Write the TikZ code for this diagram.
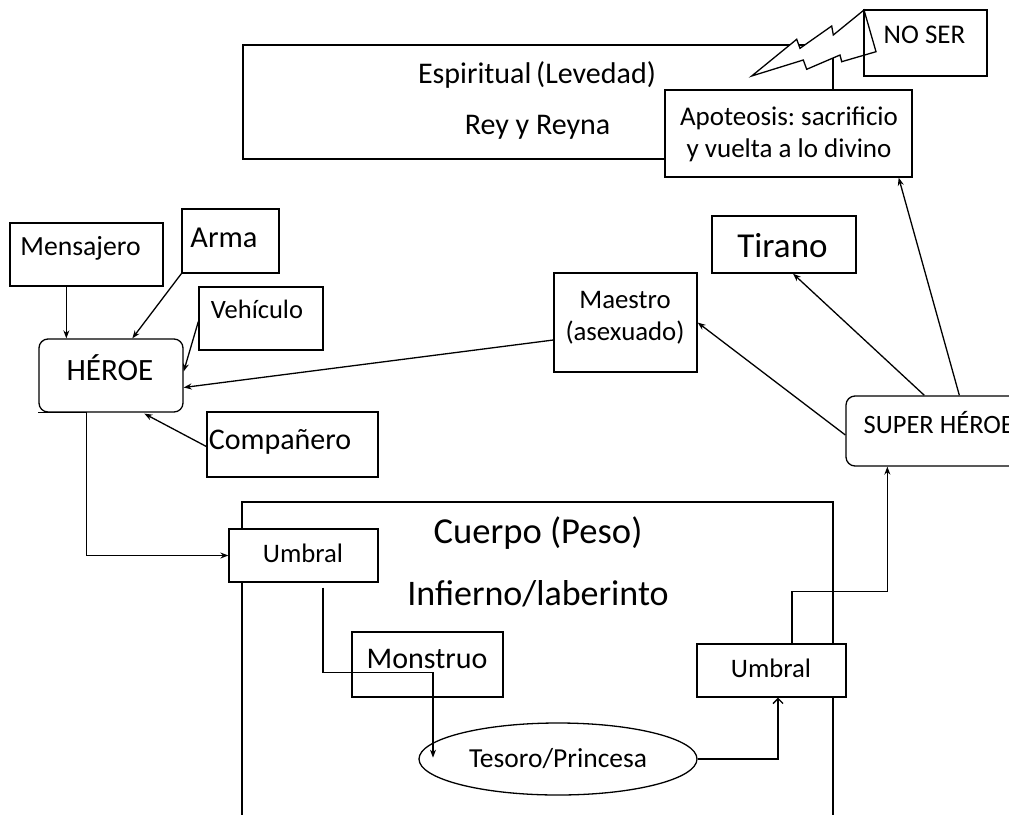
\documentclass[tikz,border=0pt]{standalone}
\usepackage{fontspec}
\setmainfont{Carlito}
\usetikzlibrary{arrows.meta,calc,shapes.geometric}
\newcommand\fsz[2]{\fontsize{#1}{#2}\selectfont}
\begin{document}
\begin{tikzpicture}[x=1pt,y=-1pt,line width=1.3pt,
  box/.style={draw,rectangle,inner sep=0pt},
  rbox/.style={box,rounded corners=9pt},
  wbox/.style={box,fill=white},
  txt/.style={inner sep=0pt,anchor=base},
  arr/.style={-{Stealth[length=8pt,width=6pt]}},
  openarr/.style={-{Straight Barb[length=5pt,width=10pt]}}]
\useasboundingbox (0,0) rectangle (1009,814);
\fill[white] (0,0) rectangle (1009,814);
% big regions
\node[box,minimum width=590pt,minimum height=114pt] (espiritual) at (538,102) {};
\node[box,minimum width=591pt,minimum height=338pt] (cuerpo) at (537.5,671) {};
\node[txt,font=\fsz{30}{36}] (levedad) at (537,83) {Espiritual\hspace{-2pt} (Levedad)};
\node[txt,font=\fsz{30}{36}] (rey) at (537.5,134) {Rey y Reyna};
\node[txt,font=\fsz{36.6}{44}] (peso) at (538,543) {Cuerpo (Peso)};
\node[txt,font=\fsz{36}{44}] (infierno) at (538,605) {Infierno/laberinto};
% lightning
\draw[fill=white] (751.7,76) -- (796.7,39.3) -- (800,48.3) -- (831.7,26) -- (833.3,35) -- (864,10) -- (876,51.7) -- (841.7,61.7) -- (840,55) -- (806.7,69.3) -- (803.3,60) -- cycle;
\node[box,minimum width=123pt,minimum height=66pt] (noser) at (925.5,43) {};
\node[txt,font=\fsz{27}{32}] (noser-t) at (924.5,43) {NO SER};
\node[wbox,minimum width=247pt,minimum height=87pt] (apoteosis) at (788.5,133.5) {};
\node[txt,font=\fsz{27}{32}] (apoteosis-t1) at (789,125) {Apoteosis:\hspace{-2pt} sacrificio};
\node[txt,font=\fsz{27}{32}] (apoteosis-t2) at (789,157) {y vuelta a lo divino};
% left side
\node[box,minimum width=153pt,minimum height=63pt] (mensajero) at (86.5,254.5) {};
\node[txt,font=\fsz{27.7}{33}] (mensajero-t) at (80.5,255) {Mensajero};
\node[box,minimum width=97pt,minimum height=64pt] (arma) at (230.5,241) {};
\node[txt,font=\fsz{30.4}{36}] (arma-t) at (224,247) {Arma};
\node[box,minimum width=124pt,minimum height=63pt] (vehiculo) at (261,318.5) {};
\node[txt,font=\fsz{26.5}{32}] (vehiculo-t) at (257,318) {Vehículo};
\node[rbox,minimum width=144pt,minimum height=73pt] (heroe) at (111,375.5) {};
\node[txt,font=\fsz{31}{37}] (heroe-t) at (110,380) {HÉROE};
\node[box,minimum width=171pt,minimum height=65pt] (companero) at (292.5,444.5) {};
\node[txt,font=\fsz{30}{36}] (companero-t) at (280,449) {Compañero};
% middle / right
\node[box,minimum width=143pt,minimum height=99pt] (maestro) at (625.5,322.5) {};
\node[txt,font=\fsz{26.8}{32}] (maestro-t1) at (625,308) {Maestro};
\node[txt,font=\fsz{26.8}{32}] (maestro-t2) at (625,340) {(asexuado)};
\node[box,minimum width=144pt,minimum height=57pt] (tirano) at (784,244.5) {};
\node[txt,font=\fsz{35}{42}] (tirano-t) at (782.5,257) {Tirano};
\node[rbox,minimum width=184pt,minimum height=70pt] (superh) at (938,431) {};
\node[txt,anchor=base west,font=\fsz{26.5}{32}] (superh-t) at (863,433) {SUPER HÉROE};
% lower region
\node[wbox,minimum width=149pt,minimum height=53pt] (umbral1) at (303.5,555.5) {};
\node[txt,font=\fsz{26.7}{32}] (umbral1-t) at (303,562) {Umbral};
\node[box,minimum width=151pt,minimum height=65pt] (monstruo) at (427.5,664.5) {};
\node[txt,font=\fsz{30}{36}] (monstruo-t) at (427,668) {Monstruo};
\node[draw,ellipse,inner sep=0pt,minimum width=278pt,minimum height=72pt] (tesoro) at (558,759) {};
\node[txt,font=\fsz{27.5}{33}] (tesoro-t) at (558,767) {Tesoro/Princesa};
\node[wbox,minimum width=149pt,minimum height=53pt] (umbral2) at (771.5,670.5) {};
\node[txt,font=\fsz{26.7}{32}] (umbral2-t) at (771,677) {Umbral};
% connectors
\draw[arr] ($(mensajero.south west)+(57,0)$) -- ($(heroe.north west)+(28,0)$);
\draw[arr] (arma.south west) -- ($(heroe.north west)+(94,0)$);
\draw[arr] ($(vehiculo.west)+(0,3)$) -- ($(heroe.east)+(0,-4)$);
\draw[arr] ($(maestro.west)+(0,17.5)$) -- ($(heroe.east)+(0,12)$);
\draw[arr] ($(companero.west)+(0,2)$) -- ($(heroe.south west)+(106,1)$);
\draw[arr] (heroe.south west) -- ++(48,0) |- (umbral1.west);
\draw[arr] ($(umbral1.south)+(19.5,5)$) |- ++(110,85) -- ++(0,85);
\draw[openarr] (tesoro.east) -| ($(umbral2.south)+(6.5,0)$);
\draw[arr] ($(umbral2.north)+(20.5,0)$) |- ($(superh.south west)+(42,125)$) -- ($(superh.south west)+(42,0)$);
\draw[arr] ($(superh.west)+(0,4)$) -- (maestro.east);
\draw[arr] ($(superh.north west)+(79,0)$) -- ($(tirano.south)+(9,0)$);
\draw[arr] ($(superh.north west)+(114,0)$) -- ($(apoteosis.south east)+(-14,0)$);
\end{tikzpicture}
\end{document}
